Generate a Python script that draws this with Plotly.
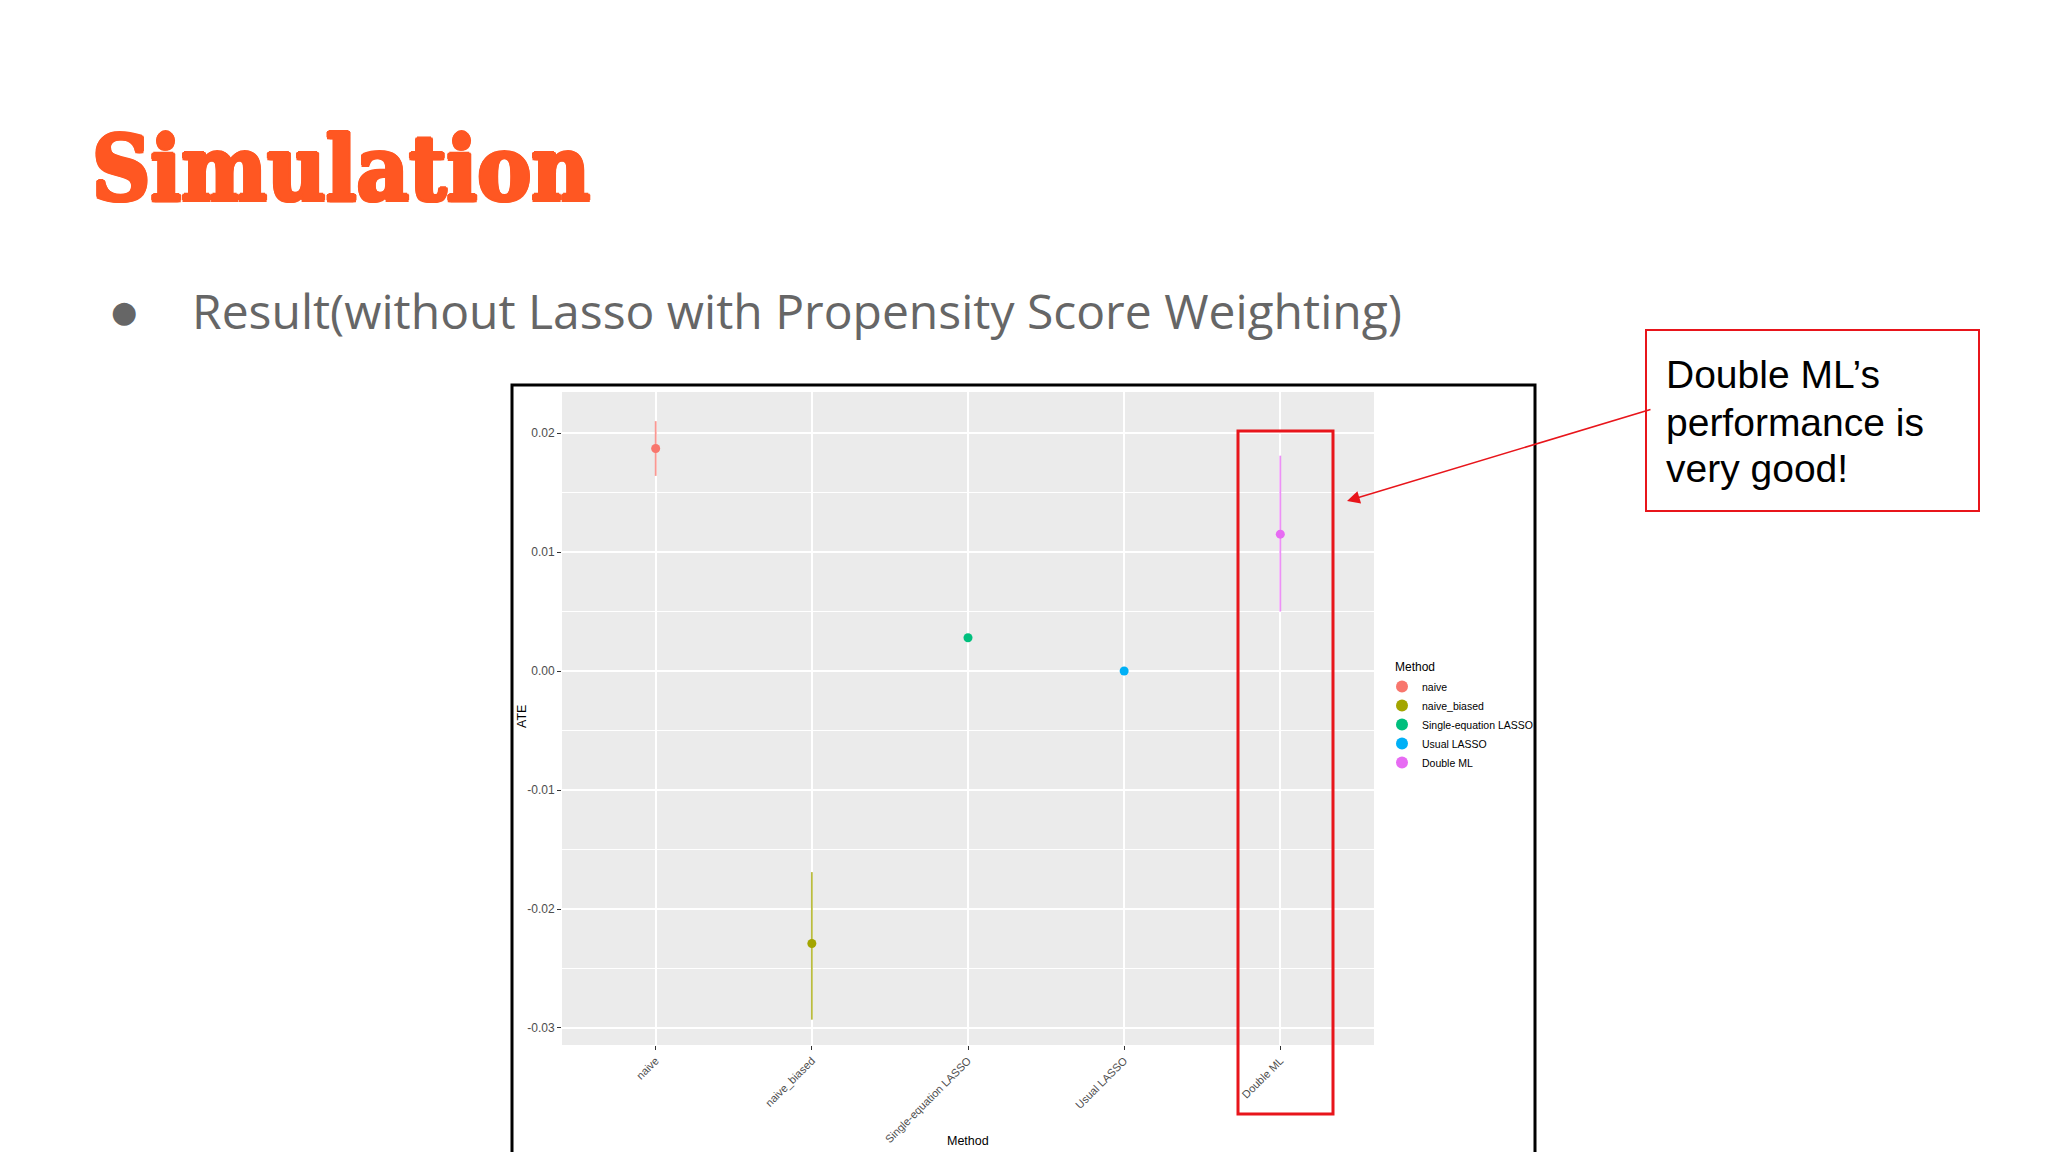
import plotly.graph_objects as go

# ---------------- data ----------------
methods = ["naive", "naive_biased", "Single-equation LASSO", "Usual LASSO", "Double ML"]
ate = [0.0187, -0.0229, 0.0028, 0.0000, 0.0115]
ci_low = [0.0164, -0.0293, 0.0028, 0.0000, 0.0050]
ci_high = [0.0210, -0.0169, 0.0028, 0.0000, 0.0181]
colors = ["#F8766D", "#A3A500", "#00BF7D", "#00B0F6", "#E76BF3"]
bar_colors = ["rgba(248,118,109,0.75)", "rgba(163,165,0,0.75)", "rgba(0,191,125,0.75)",
              "rgba(0,176,246,0.75)", "rgba(231,107,243,0.75)"]
y_tick_vals = [-0.03, -0.02, -0.01, 0.00, 0.01, 0.02]
y_tick_labels = ["-0.03", "-0.02", "-0.01", "0.00", "0.01", "0.02"]
callout_lines = ["Double ML’s", "performance is", "very good!"]

W, H = 2048, 1152
def px(x):
    return x / W
def py(y):
    return 1 - y / H

fig = go.Figure()
for m, v, lo, hi, c, bc in zip(methods, ate, ci_low, ci_high, colors, bar_colors):
    fig.add_trace(go.Scatter(
        x=[m], y=[v], mode="markers", name=m,
        marker=dict(color=c, size=9),
        error_y=dict(type="data", symmetric=False, array=[hi - v], arrayminus=[v - lo],
                     color=bc, thickness=1.8, width=0),
    ))

SANS = "Liberation Sans, Arial, sans-serif"
axis_font = dict(family=SANS, color="#4D4D4D")

fig.update_layout(
    width=W, height=H,
    margin=dict(l=0, r=0, t=0, b=0),
    paper_bgcolor="white",
    plot_bgcolor="#EBEBEB",
    font=dict(family=SANS, color="black"),
    xaxis=dict(
        domain=[px(562), px(1374)],
        type="category", categoryorder="array", categoryarray=methods,
        range=[-0.6, 4.6],
        showgrid=True, gridcolor="white", gridwidth=1.6,
        zeroline=False, showline=False,
        ticks="outside", ticklen=4, tickcolor="#333333", tickwidth=1,
        tickangle=-45, tickfont=dict(size=11, **axis_font),
    ),
    yaxis=dict(
        domain=[py(1045), py(392)],
        range=[-0.03143, 0.02345],
        tickvals=y_tick_vals, ticktext=y_tick_labels,
        showgrid=True, gridcolor="white", gridwidth=1.6,
        minor=dict(dtick=0.005, tick0=0.005, showgrid=True, gridcolor="white", gridwidth=0.8, ticklen=0),
        zeroline=False, showline=False,
        ticks="outside", ticklen=4, tickcolor="#333333", tickwidth=1,
        tickfont=dict(size=12, **axis_font),
    ),
    showlegend=True,
    legend=dict(
        x=px(1382), y=py(672), xanchor="left", yanchor="top",
        bgcolor="rgba(0,0,0,0)",
        font=dict(size=10.5, family=SANS, color="black"),
        itemsizing="constant",
    ),
)

shapes = [
    # embedded image frame
    dict(type="rect", xref="paper", yref="paper", x0=px(512), x1=px(1535), y0=-0.05, y1=py(385),
         line=dict(color="black", width=3), fillcolor="rgba(0,0,0,0)", layer="above"),
    # red highlight box around Double ML
    dict(type="rect", xref="paper", yref="paper", x0=px(1238), x1=px(1333), y0=py(1114), y1=py(431),
         line=dict(color="#E8151B", width=3), fillcolor="rgba(0,0,0,0)", layer="above"),
    # callout box
    dict(type="rect", xref="paper", yref="paper", x0=px(1646), x1=px(1979), y0=py(511), y1=py(330),
         line=dict(color="#E8151B", width=2), fillcolor="rgba(0,0,0,0)", layer="above"),
]
fig.update_layout(shapes=shapes)

ORANGE = "#FF5722"
stroke = ", ".join(f"{dx}px {dy}px 0 {ORANGE}" for dx, dy in
                   [(2, 0), (-2, 0), (0, 2), (0, -2), (1.5, 1.5), (-1.5, 1.5), (1.5, -1.5), (-1.5, -1.5)])

annotations = [
    dict(text="Simulation", x=px(90), y=py(168), xref="paper", yref="paper",
         xanchor="left", yanchor="middle", showarrow=False,
         font=dict(family="DejaVu Serif Condensed, DejaVu Serif, serif", size=90, color=ORANGE,
                   weight="bold", shadow=stroke)),
    dict(text="●", x=px(124), y=py(311), xref="paper", yref="paper",
         xanchor="center", yanchor="middle", showarrow=False,
         font=dict(family="DejaVu Sans, sans-serif", size=30, color="#666666")),
    dict(text="Result(without Lasso with Propensity Score Weighting)", x=px(190), y=py(310),
         xref="paper", yref="paper", xanchor="left", yanchor="middle", showarrow=False,
         font=dict(family="Open Sans, Lato, sans-serif", size=48, color="#666666")),
    dict(text="Method", x=px(1393), y=py(667), xref="paper", yref="paper",
         xanchor="left", yanchor="middle", showarrow=False,
         font=dict(size=12, color="black", family=SANS)),
    dict(text="ATE", x=px(522), y=py(717), xref="paper", yref="paper", textangle=-90,
         xanchor="center", yanchor="middle", showarrow=False,
         font=dict(size=12.5, color="black")),
    dict(text="Method", x=px(968), y=py(1141), xref="paper", yref="paper",
         xanchor="center", yanchor="middle", showarrow=False,
         font=dict(size=12.5, color="black")),
    dict(text="", x=px(1347), y=py(501), xref="paper", yref="paper",
         showarrow=True, ax=1652 - 1347, ay=409 - 501, axref="pixel", ayref="pixel",
         arrowhead=2, arrowsize=1.6, arrowwidth=1.6, arrowcolor="#E8151B", standoff=0),
]
for line, yc in zip(callout_lines, [375, 422, 468]):
    annotations.append(dict(text=line, x=px(1664), y=py(yc), xref="paper", yref="paper",
                            xanchor="left", yanchor="middle", align="left", showarrow=False,
                            font=dict(size=39, color="black", family=SANS)))
fig.update_layout(annotations=annotations)

fig.write_html("out.html", config={"displayModeBar": False},
               post_script="document.body.style.margin='0';document.body.style.overflow='hidden';")
